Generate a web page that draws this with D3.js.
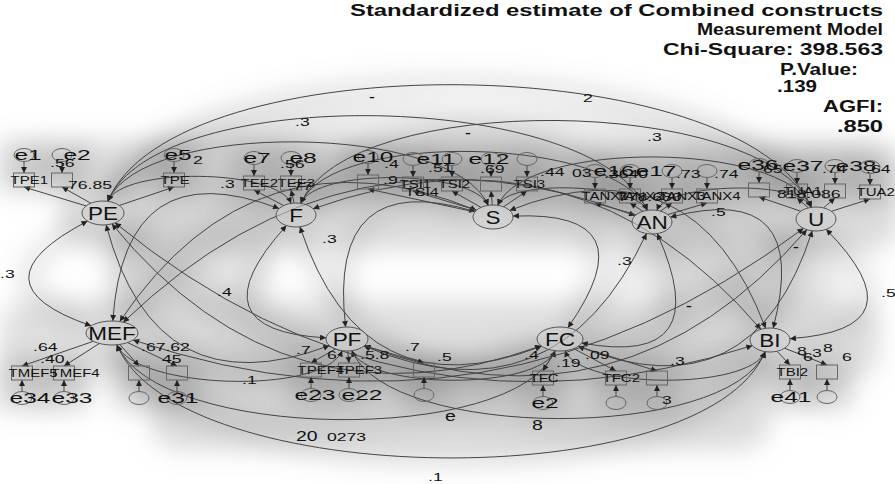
<!DOCTYPE html>
<html>
<head>
<meta charset="utf-8">
<script src="https://cdnjs.cloudflare.com/ajax/libs/d3/7.8.5/d3.min.js"></script>
<style>
body { margin: 0; background: #fff; }
text { font-family: "Liberation Sans", Arial, sans-serif; fill: #111; }
</style>
</head>
<body>
<div id="diagram"></div>
<script>

// constructs (latent variables)
var latents = ["PE", "F", "S", "AN", "U", "MEF", "PF", "FC", "BI"]

// observed variables, the construct they load on and their error term
var indicators = ["TPE1", "", "TPE", "TEE2", "TEE3", "", "TSI1", "TSI2", "", "TSI3",
    "TANX1", "TANX2", "TANX3", "TANX4", "", "TUA1", "", "TUA2",
    "TMEF5", "TMEF4", "", "", "TPEF4", "TPEF3", "", "TFC", "TFC2", "", "TBI2", ""]
var indicatorOf = ["PE", "PE", "PE", "F", "F", "S", "S", "S", "S", "S",
    "AN", "AN", "AN", "AN", "U", "U", "U", "U",
    "MEF", "MEF", "MEF", "MEF", "PF", "PF", "PF", "FC", "FC", "FC", "BI", "BI"]
var errors = ["e1", "e2", "e5", "e7", "e8", "e10", "", "e11", "e12", "",
    "", "e16", "e17", "", "e36", "e37", "e38", "",
    "e34", "e33", "", "e31", "e23", "e22", "", "e2", "", "", "e41", ""]

// every pair of constructs is correlated in the measurement model
var covariances = [
    ["PE", "F"], ["PE", "S"], ["PE", "AN"], ["PE", "U"], ["F", "S"], ["F", "AN"], ["F", "U"],
    ["S", "AN"], ["S", "U"], ["AN", "U"],
    ["MEF", "PF"], ["MEF", "FC"], ["MEF", "BI"], ["PF", "FC"], ["PF", "BI"], ["FC", "BI"],
    ["PE", "MEF"], ["PE", "PF"], ["PE", "FC"], ["PE", "BI"], ["F", "MEF"], ["F", "PF"], ["F", "FC"], ["F", "BI"],
    ["S", "MEF"], ["S", "PF"], ["S", "FC"], ["S", "BI"], ["AN", "MEF"], ["AN", "PF"], ["AN", "FC"], ["AN", "BI"],
    ["U", "MEF"], ["U", "PF"], ["U", "FC"], ["U", "BI"]
]

// estimates as printed (many overlap in the AMOS output)
var estimates = ["-", ".3", "2", ".3", "-", ".3",
    "76.85", ".56", "2", ".56", ".77", ".4", ".9", ".51", ".69", ".44", "TSI4",
    "03", ".3640", ".73", ".74", "778.680", ".5", "65", ".74", ".64", "818.086",
    ".3", ".4", ".3", ".3", "-", "-", ".5",
    ".64", ".40", ".67.62", "45", ".1", ".7", "6", ".5.8", ".7", ".5",
    ".4", ".19", ".09", ".3", "3", "8", "6", "3", "8", "6",
    "e", "8", "20", "0273", ".1"]

var fitText = ["Standardized estimate of Combined constructs", "Measurement Model",
    "Chi-Square: 398.563", "P.Value:", ".139", "AGFI:", ".850"]

// ---- layout of the AMOS canvas ----
var latentPos = {PE: [103, 213], F: [296, 215], S: [493, 217], AN: [652, 222], U: [816, 219],
    MEF: [112, 333], PF: [347, 339], FC: [560, 339], BI: [770, 340]}
var latentRx = {PE: 21, F: 20, S: 20, AN: 20, U: 20, MEF: 26, PF: 21, FC: 23, BI: 20}
var boxPos = [[24, 180], [62, 180], [174, 180], [254, 183], [291, 183],
    [368, 182], [413, 184], [452, 184], [491, 184], [527, 184],
    [595, 196], [630, 196], [672, 196], [707, 196], [759, 190], [797, 191], [835, 191], [870, 192],
    [22, 373], [64, 373], [139, 373], [177, 373], [311, 370], [349, 370], [424, 370],
    [543, 378], [616, 378], [657, 378], [790, 372], [827, 372]]
var errLabelDx = [4, 15, 4, 3, 12, 5, 0, -16, -2, 0, 0, -16, -16, 0, -1, 6, 21, 0,
    8, 8, 0, 1, 4, 13, 0, 2, 0, 0, 1, 0]
var estimatePos = [[369, 100, 1], [295, 126, 1], [583, 102, 1], [647, 141, 1], [465, 136, 1], [220, 188, 1],
    [68, 189, 1], [50, 167, 1], [193, 164, 1], [280, 168, 1], [288, 190, 1], [384, 168, 1], [383, 184, 1],
    [428, 172, 1], [480, 173, 1], [540, 176, 1], [405, 196, 0],
    [572, 177, 1], [604, 178, 1], [676, 178, 1], [714, 178, 1], [618, 201, 1], [711, 216, 1],
    [763, 173, 1], [822, 173, 1], [866, 173, 1], [777, 198, 1],
    [0, 278, 1], [217, 296, 1], [322, 243, 1], [617, 265, 1], [686, 309, 1], [793, 250, 1], [881, 297, 1],
    [33, 351, 1], [40, 363, 1], [141, 351, 1], [162, 363, 1], [242, 384, 1], [296, 354, 1], [327, 359, 1],
    [360, 359, 1], [405, 351, 1], [437, 361, 1],
    [524, 359, 1], [556, 367, 1], [585, 359, 1], [670, 365, 1], [662, 404, 1],
    [797, 355, 1], [803, 361, 1], [812, 357, 1], [823, 352, 1], [842, 361, 1],
    [445, 421, 2], [532, 430, 2], [296, 441, 2], [327, 441, 1], [428, 481, 1]]
var fitPos = [[350, 883, 16], [697, 883, 35], [663, 883, 55], [780, 858, 75], [777, 817, 92],
    [823, 883, 112], [837, 883, 132]]
// broad grey patches of the scanned print
var smudges = [[60, 140, 840, 110, 0.30], [0, 300, 880, 80, 0.28], [150, 380, 620, 70, 0.30],
    [130, 230, 140, 80, 0.20], [640, 230, 200, 80, 0.22]]

PathDiagram = function(_parentElement){
    this.parentElement = _parentElement
    this.initVis()
}

PathDiagram.prototype.initVis = function(){
    var vis = this
    vis.width = 895
    vis.height = 484
    vis.x = d3.scaleLinear().domain([0, vis.width]).range([0, vis.width])
    vis.y = d3.scaleLinear().domain([0, vis.height]).range([0, vis.height])

    vis.svg = d3.select("#" + vis.parentElement).append("svg")
        .attr("width", vis.width)
        .attr("height", vis.height)
    vis.defs = vis.svg.append("defs")
    vis.defs.append("filter").attr("id", "smudge")
        .attr("x", "-20%").attr("y", "-20%").attr("width", "140%").attr("height", "140%")
        .append("feGaussianBlur").attr("stdDeviation", 12)
    vis.defs.append("marker")
        .attr("id", "head")
        .attr("viewBox", "0 0 10 10")
        .attr("refX", 10).attr("refY", 5)
        .attr("markerWidth", 7).attr("markerHeight", 6)
        .attr("markerUnits", "userSpaceOnUse")
        .attr("orient", "auto-start-reverse")
        .append("path").attr("d", "M0,0L10,5L0,10Z").attr("fill", "#222")

    vis.shade = vis.svg.append("g").attr("filter", "url(#smudge)")
    vis.lines = vis.svg.append("g")
    vis.shapes = vis.svg.append("g")
    vis.labels = vis.svg.append("g")
    vis.wrangleData()
}

PathDiagram.prototype.wrangleData = function(){
    var vis = this
    vis.nodes = {}
    latents.forEach(function(name){
        vis.nodes[name] = {name: name, x: vis.x(latentPos[name][0]), y: vis.y(latentPos[name][1]),
            rx: latentRx[name], ry: 12, top: latentPos[name][1] < 280}
    })
    vis.items = indicators.map(function(name, i){
        return {name: name, latent: indicatorOf[i], error: errors[i],
            x: vis.x(boxPos[i][0]), y: vis.y(boxPos[i][1]), dx: errLabelDx[i]}
    })
    vis.items.forEach(function(d){
        d.top = vis.nodes[d.latent].top
        d.ex = d.x
        d.ey = d.top ? d.y - 25 : d.y + 25
    })
    vis.updateVis()
}

// point on the ellipse border of node n in the direction of (tx,ty)
PathDiagram.prototype.edge = function(n, tx, ty){
    var dx = tx - n.x, dy = ty - n.y
    var s = 1 / Math.sqrt((dx / n.rx) * (dx / n.rx) + (dy / n.ry) * (dy / n.ry))
    return [n.x + dx * s, n.y + dy * s]
}

PathDiagram.prototype.covPath = function(pair){
    var vis = this
    var a = vis.nodes[pair[0]], b = vis.nodes[pair[1]]
    var p0, p1, c1, c2
    if (a.top == b.top) {
        var d = b.x - a.x, sgn = a.top ? -1 : 1
        c1 = [a.x + 0.1 * d, a.y + sgn * 0.24 * d]
        c2 = [b.x - 0.1 * d, b.y + sgn * 0.24 * d]
        p0 = vis.edge(a, c1[0], c1[1])
        p1 = vis.edge(b, c2[0], c2[1])
        return "M" + p0 + "C" + c1 + " " + c2 + " " + p1
    }
    var mx = (a.x + b.x) / 2, my = (a.y + b.y) / 2
    var len = Math.hypot(b.x - a.x, b.y - a.y)
    var nx = -(b.y - a.y) / len, ny = (b.x - a.x) / len
    if ((nx > 0) != (mx > 450)) { nx = -nx; ny = -ny }
    var off = 130 + 0.08 * len
    c1 = [mx + nx * off, my + ny * off]
    p0 = vis.edge(a, c1[0], c1[1])
    p1 = vis.edge(b, c1[0], c1[1])
    return "M" + p0 + "Q" + c1 + " " + p1
}

PathDiagram.prototype.text = function(g, px, py, str, size, sx, anchor){
    return g.append("text")
        .attr("transform", "translate(" + px + "," + py + ") scale(" + sx + ",1)")
        .attr("text-anchor", anchor || "start")
        .attr("font-size", size)
        .text(str)
}

PathDiagram.prototype.updateVis = function(){
    var vis = this

    // grey smudge of the scanned print, following the drawing
    vis.shade.selectAll(".patch")
        .data(smudges).enter()
        .append("rect")
        .attr("class", "patch")
        .attr("x", function(d){ return vis.x(d[0]) })
        .attr("y", function(d){ return vis.y(d[1]) })
        .attr("width", function(d){ return d[2] })
        .attr("height", function(d){ return d[3] })
        .attr("rx", 30)
        .attr("fill", "#8c8c8c")
        .attr("fill-opacity", function(d){ return d[4] })
    vis.shade.selectAll(".smear")
        .data(covariances).enter()
        .append("path")
        .attr("class", "smear")
        .attr("d", function(d){ return vis.covPath(d) })
        .attr("fill", "none")
        .attr("stroke", "#7a7a7a")
        .attr("stroke-width", 20)
        .attr("stroke-opacity", 0.2)
    vis.shade.selectAll(".rowsmear")
        .data(vis.items).enter()
        .append("rect")
        .attr("class", "rowsmear")
        .attr("x", function(d){ return d.x - 24 })
        .attr("y", function(d){ return Math.min(d.y, d.ey) - 14 })
        .attr("width", 48)
        .attr("height", 50)
        .attr("fill", "#8a8a8a")
        .attr("fill-opacity", 0.4)

    // covariances
    vis.lines.selectAll(".cov")
        .data(covariances).enter()
        .append("path")
        .attr("class", "cov")
        .attr("d", function(d){ return vis.covPath(d) })
        .attr("fill", "none")
        .attr("stroke", "#444")
        .attr("stroke-width", 1)
        .attr("marker-start", "url(#head)")
        .attr("marker-end", "url(#head)")

    // loadings: construct -> indicator
    vis.lines.selectAll(".load")
        .data(vis.items).enter()
        .append("line")
        .attr("class", "load")
        .attr("x1", function(d){ return vis.edge(vis.nodes[d.latent], d.x, d.y)[0] })
        .attr("y1", function(d){ return vis.edge(vis.nodes[d.latent], d.x, d.y)[1] })
        .attr("x2", function(d){ return d.x })
        .attr("y2", function(d){ return d.top ? d.y + 7 : d.y - 7 })
        .attr("stroke", "#444")
        .attr("marker-end", "url(#head)")

    // error -> indicator
    vis.lines.selectAll(".err")
        .data(vis.items).enter()
        .append("line")
        .attr("class", "err")
        .attr("x1", function(d){ return d.ex })
        .attr("y1", function(d){ return d.top ? d.ey + 6.5 : d.ey - 6.5 })
        .attr("x2", function(d){ return d.x })
        .attr("y2", function(d){ return d.top ? d.y - 7 : d.y + 7 })
        .attr("stroke", "#444")
        .attr("marker-end", "url(#head)")

    vis.shapes.selectAll(".box")
        .data(vis.items).enter()
        .append("rect")
        .attr("class", "box")
        .attr("x", function(d){ return d.x - 10.5 })
        .attr("y", function(d){ return d.y - 7 })
        .attr("width", 21)
        .attr("height", 14)
        .attr("fill", "none")
        .attr("stroke", "#666")

    vis.shapes.selectAll(".errc")
        .data(vis.items).enter()
        .append("ellipse")
        .attr("class", "errc")
        .attr("cx", function(d){ return d.ex })
        .attr("cy", function(d){ return d.ey })
        .attr("rx", 10)
        .attr("ry", 6.5)
        .attr("fill", "none")
        .attr("stroke", "#666")

    vis.shapes.selectAll(".latent")
        .data(latents).enter()
        .append("ellipse")
        .attr("class", "latent")
        .attr("cx", function(d){ return vis.nodes[d].x })
        .attr("cy", function(d){ return vis.nodes[d].y })
        .attr("rx", function(d){ return vis.nodes[d].rx })
        .attr("ry", function(d){ return vis.nodes[d].ry })
        .attr("fill", "#cfcfcf")
        .attr("fill-opacity", 0.55)
        .attr("stroke", "#555")

    latents.forEach(function(name){
        var n = vis.nodes[name]
        vis.text(vis.labels, n.x, n.y + 6.5, name, 18, 1.25, "middle")
    })
    vis.items.forEach(function(d){
        if (d.name) vis.text(vis.labels, d.x - 13.5, d.y + 3.5, d.name, 10, 1.5)
        if (d.error) vis.text(vis.labels, d.ex + d.dx, d.ey + 5, d.error, 14, 1.75, "middle")
    })
    estimates.forEach(function(s, i){
        var p = estimatePos[i]
        var size = [10, 11, 15][p[2]]
        var t = vis.text(vis.labels, vis.x(p[0]), vis.y(p[1]), s, size, p[2] == 2 ? 1.3 : 1.6)
        if (s == "-") t.attr("font-weight", "bold")
    })
    fitText.forEach(function(s, i){
        var p = fitPos[i]
        vis.labels.append("text")
            .attr("x", vis.x(p[0]))
            .attr("y", vis.y(p[2]))
            .attr("textLength", p[1] - p[0])
            .attr("lengthAdjust", "spacingAndGlyphs")
            .attr("font-size", 16)
            .attr("font-weight", "bold")
            .text(s)
    })
}

new PathDiagram("diagram")
</script>
</body>
</html>
